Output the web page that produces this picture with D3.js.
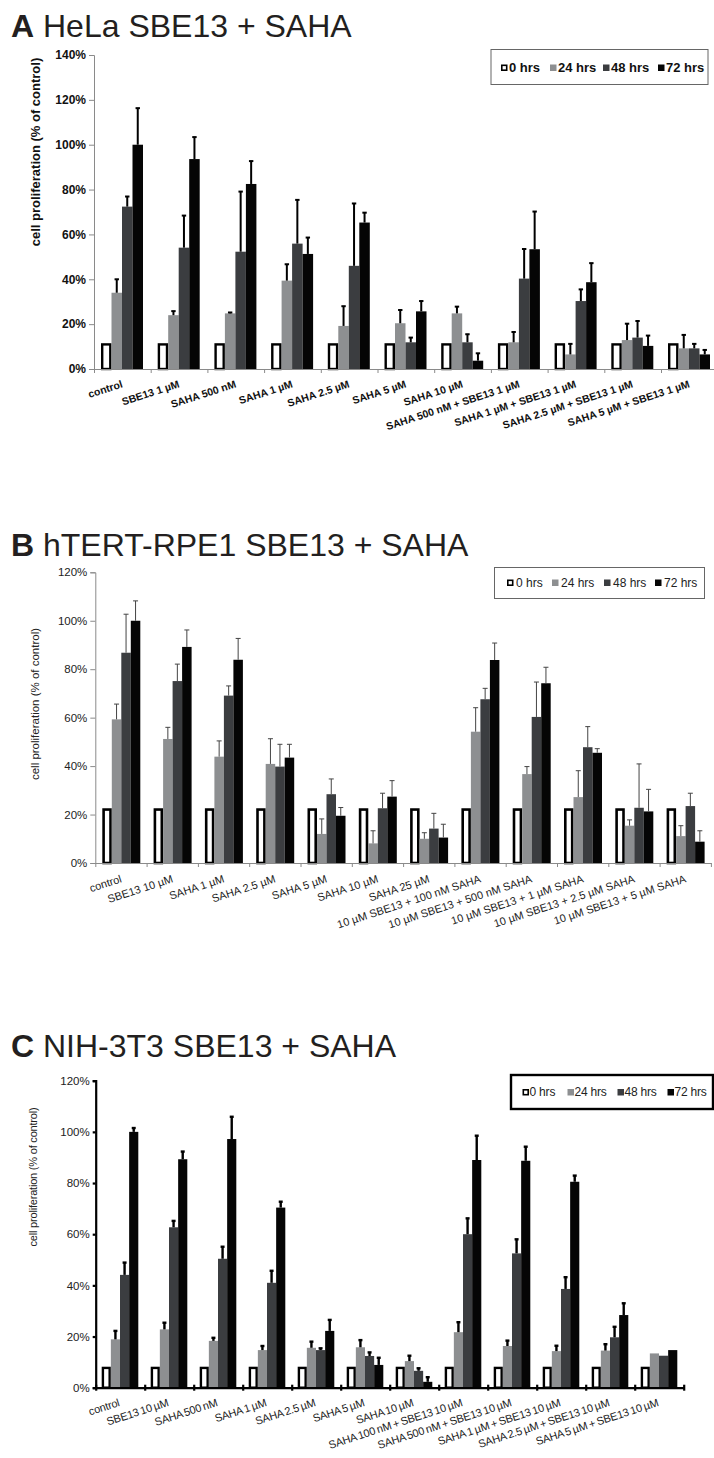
<!DOCTYPE html>
<html>
<head>
<meta charset="utf-8">
<script src="https://cdn.jsdelivr.net/npm/d3@7/dist/d3.min.js"></script>
<style>
  html, body { margin: 0; padding: 0; background: #fff; }
  svg { display: block; font-family: "Liberation Sans", Arial, sans-serif; }
</style>
</head>
<body>
<svg id="fig" width="714" height="1458"></svg>
<script>
// ---- shared series ----
const hourLabels = ["0 hrs", "24 hrs", "48 hrs", "72 hrs"];
const yTicksA = [0, 20, 40, 60, 80, 100, 120, 140];
const yTicksBC = [0, 20, 40, 60, 80, 100, 120];

// ---- A: HeLa ----
const helaCategories = ["control", "SBE13 1 µM", "SAHA 500 nM", "SAHA 1 µM", "SAHA 2.5 µM", "SAHA 5 µM", "SAHA 10 µM",
  "SAHA 500 nM + SBE13 1 µM", "SAHA 1 µM + SBE13 1 µM", "SAHA 2.5 µM + SBE13 1 µM", "SAHA 5 µM + SBE13 1 µM"];
const hela0h = [11.5, 11.5, 11.5, 11.5, 11.5, 11.5, 11.5, 11.5, 11.5, 11.5, 11.5];
const hela24h = [34, 24, 24.8, 39.4, 19.2, 20.4, 24.8, 11.9, 6.5, 12.9, 9.2];
const hela48h = [72.4, 54.1, 52.3, 55.9, 46, 11.9, 11.9, 40.3, 30.3, 14, 9.2];
const hela72h = [100, 93.6, 82.5, 51.3, 65.3, 25.7, 3.7, 53.4, 38.7, 10.3, 6.5];
const hela24hErr = [6, 1.8, 0.4, 7.3, 8.8, 5.9, 3, 4.6, 4.7, 7.3, 6];
const hela48hErr = [4.5, 14.3, 26.8, 19.5, 27.8, 2.1, 3.6, 13.2, 5.2, 7.4, 2];
const hela72hErr = [16.3, 9.8, 10.2, 7.3, 4.4, 4.6, 3.3, 16.8, 8.5, 4.6, 2];

// ---- B: hTERT-RPE1 ----
const rpeCategories = ["control", "SBE13 10 µM", "SAHA 1 µM", "SAHA 2.5 µM", "SAHA 5 µM", "SAHA 10 µM", "SAHA 25 µM",
  "10 µM SBE13 + 100 nM SAHA", "10 µM SBE13 + 500 nM SAHA", "10 µM SBE13 + 1 µM SAHA", "10 µM SBE13 + 2.5 µM SAHA", "10 µM SBE13 + 5 µM SAHA"];
const rpe0h = [22.6, 22.6, 22.6, 22.6, 22.6, 22.6, 22.6, 22.6, 22.6, 22.6, 22.6, 22.6];
const rpe24h = [59.3, 51.2, 43.9, 40.9, 12, 8.1, 10, 54.2, 36.7, 27.2, 15.4, 11.1];
const rpe48h = [86.8, 75.1, 69.1, 39.8, 28.4, 22.6, 14.2, 67.6, 60.3, 47.8, 22.8, 23.5];
const rpe72h = [100, 89.2, 83.9, 43.5, 19.5, 27.4, 10.5, 83.8, 74.2, 45.5, 21.3, 8.8];
const rpe24hErr = [6.3, 4.8, 6.5, 10.4, 6.2, 5.2, 2.5, 9.9, 3.1, 10.9, 2.4, 4.3];
const rpe48hErr = [15.9, 7, 4, 9.2, 6.3, 6.2, 6.3, 4.5, 14.4, 8.5, 18.1, 5.3];
const rpe72hErr = [8.2, 7, 8.8, 5.5, 3.4, 6.6, 5.5, 7, 6.6, 1.7, 9.1, 4.5];

// ---- C: NIH-3T3 ----
const nihCategories = ["control", "SBE13 10 µM", "SAHA 500 nM", "SAHA 1 µM", "SAHA 2.5 µM", "SAHA 5 µM", "SAHA 10 µM",
  "SAHA 100 nM + SBE13 10 µM", "SAHA 500 nM + SBE13 10 µM", "SAHA 1 µM + SBE13 10 µM", "SAHA 2.5 µM + SBE13 10 µM", "SAHA 5 µM + SBE13 10 µM"];
const nih0h = [8.2, 8.2, 8.2, 8.2, 8.2, 8.2, 8.2, 8.2, 8.2, 8.2, 8.2, 8.2];
const nih24h = [18.9, 22.8, 18.3, 14.7, 15.6, 15.8, 10.4, 21.7, 16.3, 14.3, 14.5, 13.4];
const nih48h = [44.1, 62.7, 50.4, 41, 14.7, 12.4, 6.6, 60, 52.5, 38.6, 19.7, 12.5];
const nih72h = [100, 89.3, 97.2, 70.4, 22.2, 8.9, 2.3, 89, 88.7, 80.5, 28.4, 14.7];
const nih24hErr = [3.3, 2.6, 1.2, 1.6, 2.4, 2.8, 2.1, 3.9, 2.1, 2.1, 2.5, 0];
const nih48hErr = [4.8, 2.5, 4.7, 4.7, 0.7, 1.4, 1, 6.2, 5.5, 4.6, 4.1, 0];
const nih72hErr = [1.5, 3, 8.7, 2.3, 4.3, 2.8, 1.8, 9.5, 5.5, 2.4, 4.6, 0];

const fills = ["#ffffff", "#8d8f91", "#3b3d40", "#050505"];
const svg = d3.select("#fig");

function drawPanel(p) {
  const g = svg.append("g");
  const n = p.categories.length;
  const x = d3.scaleBand().domain(d3.range(n)).range([p.x0, p.x0 + n * p.band]);
  const inner = d3.scaleBand().domain(d3.range(4)).range([p.groupOffset, p.groupOffset + p.groupWidth]);
  const y = d3.scaleLinear().domain([0, p.yMax]).range([p.y0, p.yTop]);
  const idx = d3.scaleLinear().domain([0, n]).range([p.x0, p.x0 + n * p.band]);

  // title
  const t = g.append("text").attr("x", 11).attr("y", p.titleY)
    .attr("font-size", 32).attr("fill", "#231f20");
  t.append("tspan").attr("font-weight", "bold").text(p.titleLetter);
  t.append("tspan").text(" " + p.title);

  // bars
  const series = [p.s0, p.s24, p.s48, p.s72];
  const errs = [null, p.e24, p.e48, p.e72];
  series.forEach((vals, si) => {
    const isOpen = si === 0;
    const sw = p.openStroke;
    g.append("g").selectAll("rect").data(vals).join("rect")
      .attr("x", (d, i) => x(i) + inner(si) + (isOpen ? sw / 2 : 0))
      .attr("y", d => y(d) + (isOpen ? sw / 2 : 0))
      .attr("width", inner.bandwidth() - (isOpen ? sw : 0))
      .attr("height", d => y(0) - y(d) - (isOpen ? sw / 2 : 0))
      .attr("fill", fills[si])
      .attr("stroke", isOpen ? "#000" : "none")
      .attr("stroke-width", isOpen ? sw : 0);
  });

  // error bars (upper only)
  errs.forEach((ev, si) => {
    if (!ev) return;
    const eg = g.append("g").attr("stroke", p.errColor).attr("stroke-width", p.errWidth);
    const data = series[si].map((v, i) => ({ v, e: ev[i], i })).filter(d => d.e > 0);
    const cx = d => x(d.i) + inner(si) + inner.bandwidth() / 2;
    eg.selectAll("line.v").data(data).join("line").attr("class", "v")
      .attr("x1", cx).attr("x2", cx)
      .attr("y1", d => y(d.v)).attr("y2", d => y(d.v + d.e));
    eg.selectAll("line.c").data(data).join("line").attr("class", "c")
      .attr("x1", d => cx(d) - p.capHalf).attr("x2", d => cx(d) + p.capHalf)
      .attr("y1", d => y(d.v + d.e)).attr("y2", d => y(d.v + d.e));
  });

  // y axis
  const yAxis = g.append("g").attr("transform", `translate(${p.x0},0)`)
    .call(d3.axisLeft(y).tickValues(p.yTicks).tickFormat(d => d + "%").tickSize(p.yTickSize).tickPadding(3));
  yAxis.select(".domain").attr("stroke", p.axisColor).attr("stroke-width", p.axisWidth);
  yAxis.selectAll(".tick line").attr("stroke", p.axisColor).attr("stroke-width", p.tickWidth);
  yAxis.selectAll(".tick text").attr("font-size", p.tickFont).attr("font-weight", p.bold ? "bold" : "normal")
    .attr("fill", p.textColor).attr("font-family", "Liberation Sans, Arial, sans-serif");

  // x axis with ticks at category boundaries
  const xAxis = g.append("g").attr("transform", `translate(0,${p.y0})`)
    .call(d3.axisBottom(idx).tickValues(d3.range(n + 1)).tickFormat("").tickSizeInner(p.xTickIn).tickSizeOuter(0));
  xAxis.select(".domain").attr("stroke", p.axisColor).attr("stroke-width", p.axisWidth);
  xAxis.selectAll(".tick line").attr("stroke", p.axisColor).attr("stroke-width", p.tickWidth)
    .attr("y1", -p.xTickUp);

  // rotated category labels
  g.append("g").selectAll("text").data(p.categories).join("text")
    .attr("transform", (d, i) => `translate(${x(i) + p.band / 2 + p.labelDx},${p.y0 + p.labelDy}) rotate(${p.labelAngle})`)
    .attr("text-anchor", "end")
    .attr("font-size", p.labelFont)
    .attr("font-weight", p.bold ? "bold" : "normal")
    .attr("letter-spacing", p.letterSpacing)
    .attr("word-spacing", p.wordSpacing)
    .attr("fill", p.textColor)
    .text(d => d);

  // y label
  g.append("text")
    .attr("transform", `translate(${p.yLabelX},${p.yLabelY}) rotate(-90)`)
    .attr("text-anchor", "middle")
    .attr("font-size", p.yLabelFont)
    .attr("font-weight", p.bold ? "bold" : "normal")
    .attr("letter-spacing", p.letterSpacing)
    .attr("fill", p.textColor)
    .text("cell proliferation (% of control)");

  // legend
  const L = p.legend;
  g.append("rect").attr("x", L.x).attr("y", L.y).attr("width", L.w).attr("height", L.h)
    .attr("fill", "#fff").attr("stroke", L.stroke).attr("stroke-width", L.strokeWidth);
  const items = g.append("g").selectAll("g").data(hourLabels).join("g")
    .attr("transform", (d, i) => `translate(${L.itemX[i]},${L.baseline})`);
  items.append("rect")
    .attr("x", (d, i) => i === 0 ? 0.8 : 0).attr("y", (d, i) => -L.mark + (i === 0 ? 0.8 : 0) - 0.5)
    .attr("width", (d, i) => L.mark - (i === 0 ? 1.6 : 0)).attr("height", (d, i) => L.mark - (i === 0 ? 1.6 : 0))
    .attr("fill", (d, i) => fills[i]).attr("stroke", (d, i) => i === 0 ? "#000" : "none").attr("stroke-width", 1.6);
  items.append("text").attr("x", L.mark + L.gap).attr("y", 0)
    .attr("font-size", L.font).attr("font-weight", p.bold ? "bold" : "normal")
    .attr("letter-spacing", p.letterSpacing)
    .attr("fill", p.textColor).text(d => d);
}

drawPanel({
  titleLetter: "A", title: "HeLa SBE13 + SAHA", titleY: 37,
  categories: helaCategories, s0: hela0h, s24: hela24h, s48: hela48h, s72: hela72h,
  e24: hela24hErr, e48: hela48hErr, e72: hela72hErr,
  x0: 94, band: 56.7, groupOffset: 7, groupWidth: 42,
  y0: 369, yTop: 55, yMax: 140, yTicks: yTicksA,
  openStroke: 2.4, errColor: "#000", errWidth: 2, capHalf: 2.2,
  axisColor: "#8a8a8a", axisWidth: 1, tickWidth: 1, yTickSize: 5, xTickIn: 4, xTickUp: 0,
  tickFont: 12, bold: true, textColor: "#111",
  labelFont: 10.5, labelAngle: -18, labelDx: 1, labelDy: 18, letterSpacing: 0, wordSpacing: 0,
  yLabelX: 40, yLabelY: 152, yLabelFont: 13,
  legend: { x: 491, y: 49.5, w: 217, h: 35, stroke: "#666", strokeWidth: 1, baseline: 71.5,
    itemX: [501, 550, 603, 658], mark: 6.5, gap: 1.5, font: 13 }
});

drawPanel({
  titleLetter: "B", title: "hTERT-RPE1 SBE13 + SAHA", titleY: 556,
  categories: rpeCategories, s0: rpe0h, s24: rpe24h, s48: rpe48h, s72: rpe72h,
  e24: rpe24hErr, e48: rpe48hErr, e72: rpe72hErr,
  x0: 95.3, band: 51.3, groupOffset: 7, groupWidth: 38,
  y0: 863, yTop: 572.3, yMax: 120, yTicks: yTicksBC,
  openStroke: 2.6, errColor: "#444", errWidth: 1, capHalf: 2.5,
  axisColor: "#8a8a8a", axisWidth: 1, tickWidth: 1, yTickSize: 5, xTickIn: 4, xTickUp: 0,
  tickFont: 11.5, bold: false, textColor: "#222",
  labelFont: 11, labelAngle: -18, labelDx: 1.5, labelDy: 19, letterSpacing: 0, wordSpacing: 0,
  yLabelX: 39, yLabelY: 704, yLabelFont: 11.5,
  legend: { x: 494.5, y: 567.5, w: 210, h: 31, stroke: "#666", strokeWidth: 1, baseline: 586.5,
    itemX: [507, 552, 604, 655], mark: 6.5, gap: 2.5, font: 12 }
});

drawPanel({
  titleLetter: "C", title: "NIH-3T3 SBE13 + SAHA", titleY: 1057,
  categories: nihCategories, s0: nih0h, s24: nih24h, s48: nih48h, s72: nih72h,
  e24: nih24hErr, e48: nih48hErr, e72: nih72hErr,
  x0: 95.7, band: 49, groupOffset: 6, groupWidth: 36.6,
  y0: 1387.7, yTop: 1080.7, yMax: 120, yTicks: yTicksBC,
  openStroke: 2.4, errColor: "#000", errWidth: 2.4, capHalf: 2,
  axisColor: "#000", axisWidth: 2.2, tickWidth: 2.2, yTickSize: 3, xTickIn: 3, xTickUp: 3,
  tickFont: 11.5, bold: false, textColor: "#222",
  labelFont: 11, labelAngle: -18, labelDx: 0, labelDy: 18, letterSpacing: -0.2, wordSpacing: -0.8,
  yLabelX: 37, yLabelY: 1177, yLabelFont: 11,
  legend: { x: 511, y: 1075, w: 202, h: 34, stroke: "#000", strokeWidth: 2.4, baseline: 1096,
    itemX: [522.5, 567.5, 617.5, 667.5], mark: 6.5, gap: 0.5, font: 12 }
});
</script>
</body>
</html>
